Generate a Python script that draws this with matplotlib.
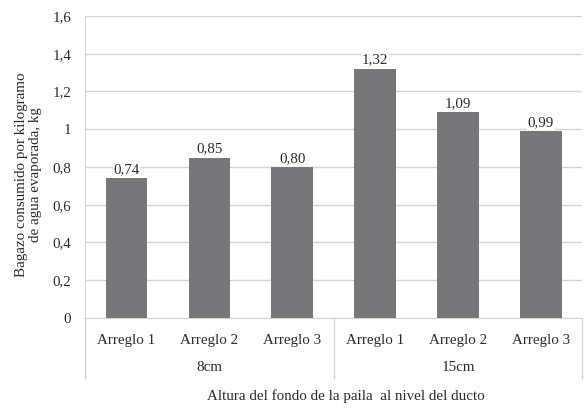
import matplotlib.pyplot as plt
import numpy as np

plt.rcParams['font.family'] = ['Liberation Serif', 'DejaVu Serif']

# Bagazo consumido por arreglo y altura
arreglos = ["Arreglo 1", "Arreglo 2", "Arreglo 3", "Arreglo 1", "Arreglo 2", "Arreglo 3"]
alturas = ["8cm", "15cm"]
bagazo = [0.74, 0.85, 0.80, 1.32, 1.09, 0.99]
yticks = [0, 0.2, 0.4, 0.6, 0.8, 1.0, 1.2, 1.4, 1.6]
ytick_labels = ["0", "0,2", "0,4", "0,6", "0,8", "1", "1,2", "1,4", "1,6"]

bar_color = "#77777a"
grid_color = "#d4d4d4"
text_color = "#2a2a2a"
fs = 10.8

fig = plt.figure(figsize=(5.85, 4.09), dpi=100)
ax = fig.add_axes([0.1453, 0.2225, 0.850, 0.7385])

x = np.arange(len(bagazo))
ax.bar(x, bagazo, width=0.5, color=bar_color, zorder=3)

# Etiquetas de valor con fondo blanco
for xi, v in zip(x, bagazo):
    ax.text(xi, v + 0.012, ("%.2f" % v).replace(".", ","), ha="center", va="bottom",
            fontsize=fs, color=text_color, zorder=4,
            bbox=dict(facecolor="white", edgecolor="none", pad=0.5))

ax.set_xlim(-0.5, len(bagazo) - 0.5)
ax.set_ylim(0, 1.6)
ax.set_yticks(yticks)
ax.set_yticklabels(ytick_labels, fontsize=fs, color=text_color)
ax.yaxis.grid(True, color=grid_color, linewidth=1, zorder=0)
ax.tick_params(axis="y", length=0, pad=10)
ax.tick_params(axis="x", length=0)
ax.set_xticks([])

for side in ["top", "right"]:
    ax.spines[side].set_visible(False)
ax.spines["left"].set_color(grid_color)
ax.spines["bottom"].set_color(grid_color)

# Ejes de categorias en dos niveles
for xi, name in zip(x, arreglos):
    ax.text(xi, -0.073, name, transform=ax.get_xaxis_transform(), ha="center", va="center",
            fontsize=fs, color=text_color)
for gi, name in enumerate(alturas):
    ax.text(gi * 3 + 1, -0.165, name, transform=ax.get_xaxis_transform(), ha="center",
            va="center", fontsize=fs, color=text_color)
for xb in [-0.5, 2.5, 5.5]:
    ax.plot([xb, xb], [0, -0.2], transform=ax.get_xaxis_transform(), color=grid_color,
            linewidth=1, clip_on=False)

ax.text(2.65, -0.258, "Altura del fondo de la paila  al nivel del ducto",
        transform=ax.get_xaxis_transform(), ha="center", va="center", fontsize=fs,
        color=text_color)
ax.set_ylabel("Bagazo consumido por kilogramo\nde agua evaporada, kg", fontsize=fs,
              color=text_color, linespacing=1.15)
ax.yaxis.set_label_coords(-0.086, 0.474)

fig.savefig("out.png", dpi=100)
